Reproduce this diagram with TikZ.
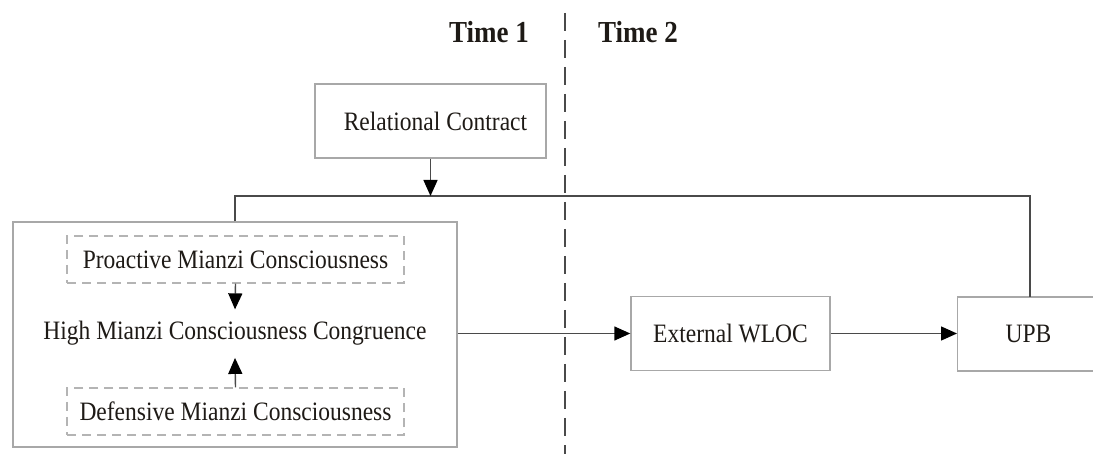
\documentclass[tikz,border=0pt]{standalone}
\usepackage{fontspec}
\setmainfont{Liberation Serif}
\usetikzlibrary{arrows.meta}
\newcommand{\vstretch}[1]{\scalebox{1}[1.13]{#1}}
\definecolor{boxgray}{HTML}{A8A8A8}
\definecolor{dashgray}{HTML}{B4B4B4}
\definecolor{linegray}{HTML}{4A4A4A}
\definecolor{txt}{HTML}{1E1A16}
\begin{document}
\begin{tikzpicture}[x=1pt,y=-1pt,
  box/.style={draw=boxgray,line width=1.4pt,inner sep=0pt,text=txt,
    font=\fontsize{23.5}{28}\selectfont},
  dbox/.style={box,draw=dashgray,line width=1.2pt,dash pattern=on 9pt off 6pt},
  plain/.style={inner sep=0pt,text=txt,font=\fontsize{23.5}{28}\selectfont},
  conn/.style={draw=linegray,line width=1.4pt},
  arr/.style={conn,-{Triangle[length=16pt,width=14pt,color=black,fill=black]}},
  timelbl/.style={inner sep=0pt,anchor=base,text=txt,
    font=\fontsize{27}{32}\selectfont\bfseries},
  timeline/.style={draw=linegray,line width=1.3pt,dash pattern=on 18pt off 9pt}]
\clip (0,0) rectangle (1093,454);
\fill[white] (0,0) rectangle (1093,454);

% time labels and divider
\node[timelbl] (t1) at (489,43) {\vstretch{Time 1}};
\node[timelbl] (t2) at (638,43) {\vstretch{Time 2}};
\coordinate (dtop) at (565,13);
\coordinate (dbot) at (565,460);
\draw[timeline] (dtop) -- (dbot);

% boxes
\node[box,minimum width=231pt,minimum height=74pt] (rc) at (430.5,121) {\vstretch{\hspace*{10pt}Relational Contract}};
\node[box,minimum width=444pt,minimum height=225pt] (big) at (235,334.5) {};
\node[dbox,minimum width=337pt,minimum height=47pt] (pro) at (235.5,259.5) {\vstretch{Proactive Mianzi Consciousness}};
\node[plain,anchor=base,inner ysep=12pt] (hmc) at (235,340) {\vstretch{High Mianzi Consciousness Congruence}};
\node[dbox,minimum width=337pt,minimum height=47pt] (def) at (235.5,411.5) {\vstretch{Defensive Mianzi Consciousness}};
\node[box,minimum width=199pt,minimum height=74pt] (ext) at (730.5,333.5) {\vstretch{External WLOC}};
\node[box,anchor=west,minimum width=220pt,minimum height=74pt,text width=220pt,align=left] (upb) at (957,334) {\hspace*{48pt}\vstretch{UPB}};

% connectors
\draw[arr] (pro.south) -- (hmc.north);
\draw[arr] (def.north) -- (hmc.south);
\coordinate (jl) at (235,196);
\coordinate (upbtop) at (1030,297);
\draw[conn] (big.north) -- (jl) -| (upbtop);
\draw[arr] (rc.south) -- (rc.south |- jl);
\draw[arr] (big.east |- ext.west) -- (ext.west);
\draw[arr] (ext.east) -- (ext.east -| upb.west);
\end{tikzpicture}
\end{document}
